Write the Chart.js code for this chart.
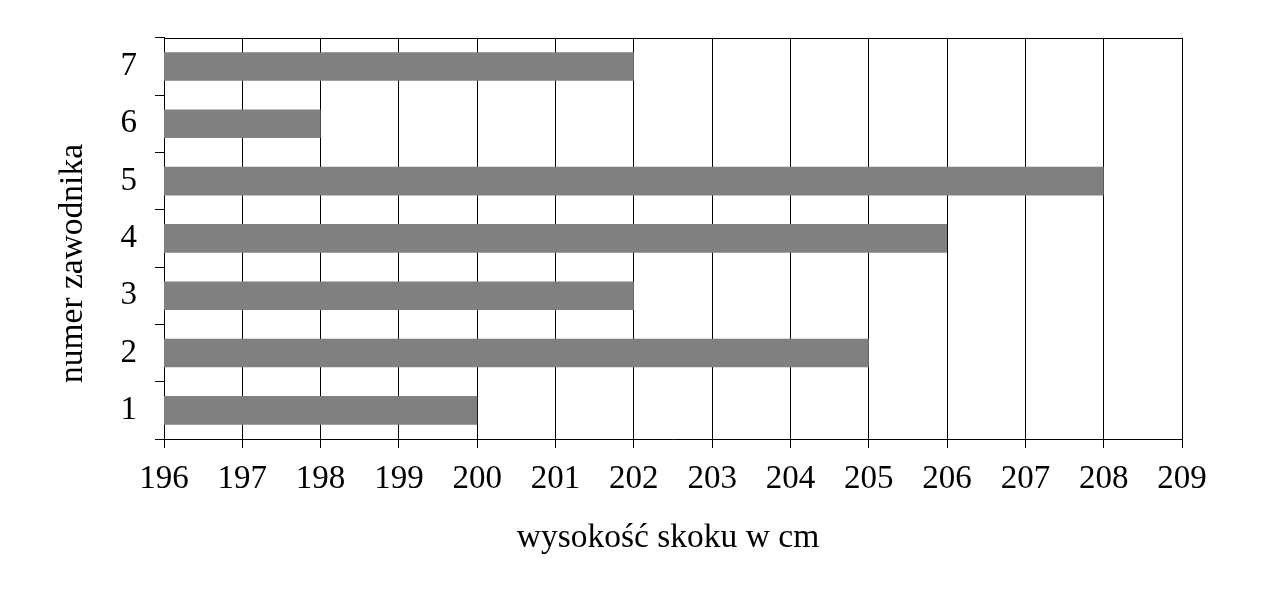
<!DOCTYPE html>
<html>
<head>
<meta charset="utf-8">
<script src="https://cdn.jsdelivr.net/npm/chart.js@4"></script>
<style>
  html, body { margin: 0; padding: 0; background: #ffffff; }
  #wrap { width: 1275px; height: 605px; }
</style>
</head>
<body>
<div id="wrap"><canvas id="c" width="1275" height="605"></canvas></div>
<script>
const categories = ['1', '2', '3', '4', '5', '6', '7'];
const heights = [200, 205, 202, 206, 208, 198, 202];
const xMin = 196;
const xMax = 209;
const xTitle = 'wysokość skoku w cm';
const yTitle = 'numer zawodnika';

const FONT = '"Liberation Serif", "Times New Roman", serif';

const titlesPlugin = {
  id: 'titles',
  afterDraw(chart) {
    const ctx = chart.ctx;
    const ca = chart.chartArea;
    ctx.save();
    // top border of plot area
    ctx.strokeStyle = '#000';
    ctx.lineWidth = 1;
    ctx.beginPath();
    ctx.moveTo(ca.left, Math.round(ca.top) + 0.5);
    ctx.lineTo(ca.right, Math.round(ca.top) + 0.5);
    ctx.stroke();
    ctx.fillStyle = '#000';
    ctx.font = '33.5px ' + FONT;
    ctx.textAlign = 'center';
    ctx.textBaseline = 'alphabetic';
    ctx.fillText(xTitle, (ca.left + ca.right) / 2 - 5, 547);
    ctx.translate(82, 263.5);
    ctx.rotate(-Math.PI / 2);
    ctx.fillText(yTitle, 0, 0);
    ctx.restore();
  }
};

new Chart(document.getElementById('c'), {
  type: 'bar',
  data: {
    labels: categories,
    datasets: [{
      data: heights,
      backgroundColor: '#808080',
      borderWidth: 0,
      barPercentage: 0.5,
      categoryPercentage: 1.0
    }]
  },
  options: {
    indexAxis: 'y',
    responsive: false,
    devicePixelRatio: 1,
    animation: false,
    layout: { padding: { top: 36, right: 93, left: 0, bottom: 0 } },
    plugins: { legend: { display: false }, tooltip: { enabled: false } },
    scales: {
      x: {
        min: xMin,
        max: xMax,
        afterFit(scale) { scale.height = 166; },
        ticks: { stepSize: 1, color: '#000', font: { family: FONT, size: 33 }, padding: 12, maxRotation: 0 },
        grid: { color: '#000', lineWidth: 1, tickLength: 9, drawOnChartArea: true, drawTicks: true },
        border: { display: true, color: '#000', width: 1 }
      },
      y: {
        reverse: true,
        afterFit(scale) { scale.width = 164; },
        ticks: { color: '#000', font: { family: FONT, size: 33 }, padding: 18 },
        grid: { offset: true, color: '#000', lineWidth: 1, tickLength: 9, drawOnChartArea: false, drawTicks: true },
        border: { display: true, color: '#000', width: 1 }
      }
    }
  },
  plugins: [titlesPlugin]
});
</script>
</body>
</html>
